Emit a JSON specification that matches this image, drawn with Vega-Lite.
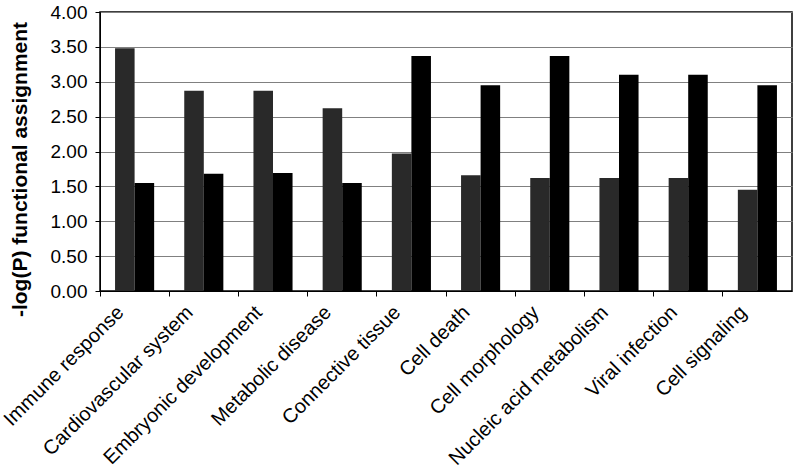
{
  "$schema": "https://vega.github.io/schema/vega-lite/v6.json",
  "width": 692,
  "height": 279,
  "autosize": "none",
  "padding": {"left": 100, "top": 12, "right": 5, "bottom": 184},
  "background": "white",
  "data": {
    "values": [
      {"category": "Immune response", "series": "Series 1", "value": 3.48},
      {"category": "Immune response", "series": "Series 2", "value": 1.55},
      {"category": "Cardiovascular system", "series": "Series 1", "value": 2.87},
      {"category": "Cardiovascular system", "series": "Series 2", "value": 1.68},
      {"category": "Embryonic development", "series": "Series 1", "value": 2.87},
      {"category": "Embryonic development", "series": "Series 2", "value": 1.69},
      {"category": "Metabolic disease", "series": "Series 1", "value": 2.62},
      {"category": "Metabolic disease", "series": "Series 2", "value": 1.55},
      {"category": "Connective tissue", "series": "Series 1", "value": 1.97},
      {"category": "Connective tissue", "series": "Series 2", "value": 3.37},
      {"category": "Cell death", "series": "Series 1", "value": 1.66},
      {"category": "Cell death", "series": "Series 2", "value": 2.95},
      {"category": "Cell morphology", "series": "Series 1", "value": 1.62},
      {"category": "Cell morphology", "series": "Series 2", "value": 3.37},
      {"category": "Nucleic acid metabolism", "series": "Series 1", "value": 1.62},
      {"category": "Nucleic acid metabolism", "series": "Series 2", "value": 3.10},
      {"category": "Viral infection", "series": "Series 1", "value": 1.62},
      {"category": "Viral infection", "series": "Series 2", "value": 3.10},
      {"category": "Cell signaling", "series": "Series 1", "value": 1.45},
      {"category": "Cell signaling", "series": "Series 2", "value": 2.95}
    ]
  },
  "mark": {"type": "bar"},
  "encoding": {
    "x": {
      "field": "category",
      "type": "nominal",
      "sort": null,
      "scale": {"paddingInner": 0.435, "paddingOuter": 0.2175},
      "axis": {
        "title": null,
        "bandPosition": -0.384,
        "labelOffset": -14,
        "labelAngle": -45,
        "labelAlign": "right",
        "labelBaseline": "middle",
        "labelFontSize": 20,
        "labelLimit": 0,
        "labelColor": "black",
        "labelPadding": 13,
        "tickColor": "black",
        "tickSize": 5,
        "domainColor": "black",
        "grid": false
      }
    },
    "xOffset": {
      "field": "series",
      "type": "nominal",
      "sort": ["Series 1", "Series 2"],
      "scale": {"paddingInner": 0, "paddingOuter": 0}
    },
    "y": {
      "field": "value",
      "type": "quantitative",
      "scale": {"domain": [0, 4], "nice": false},
      "axis": {
        "title": "-log(P) functional assignment",
        "titleFontSize": 21,
        "titleFontWeight": "bold",
        "titleColor": "black",
        "titleY": 157,
        "titleX": -70,
        "labelFontSize": 19,
        "labelColor": "black",
        "labelPadding": 8,
        "format": ".2f",
        "values": [0, 0.5, 1, 1.5, 2, 2.5, 3, 3.5, 4],
        "grid": true,
        "gridColor": "#808080",
        "gridWidth": 1,
        "tickColor": "black",
        "tickSize": 5,
        "domainColor": "black"
      }
    },
    "color": {
      "field": "series",
      "type": "nominal",
      "scale": {"domain": ["Series 1", "Series 2"], "range": ["#292929", "#000000"]},
      "legend": null
    }
  },
  "config": {
    "font": "Liberation Sans",
    "view": {"stroke": "black", "strokeWidth": 1.5}
  }
}
